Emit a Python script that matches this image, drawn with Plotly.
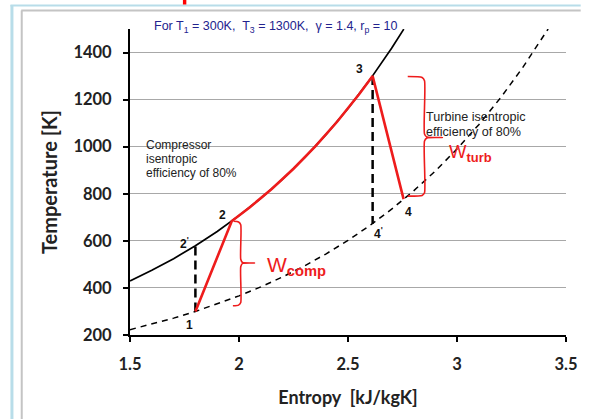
import plotly.graph_objects as go

# Low-pressure isobar (dashed)
s_low = [1.5, 1.6, 1.7, 1.8, 1.9, 2.0, 2.1, 2.2, 2.3, 2.4, 2.5, 2.6, 2.7, 2.8, 2.9, 3.0, 3.1, 3.2, 3.3, 3.4, 3.418]
T_low = [222.6, 245.9, 271.6, 300, 331.4, 366.1, 404.3, 446.7, 493.4, 545.0, 602.0, 665.0, 734.6, 811.4, 896.3, 990.1, 1093.7, 1208, 1334.4, 1474, 1500]

# High-pressure isobar (solid)
s_high = [1.5, 1.6, 1.7, 1.8, 1.9, 2.0, 2.1, 2.2, 2.3, 2.4, 2.5, 2.6, 2.7, 2.756]
T_high = [430, 474.7, 524.4, 579.2, 639.8, 707, 780.7, 862.4, 952.6, 1052.2, 1162.2, 1283.9, 1418.2, 1499.5]

# Actual cycle 1-2-3-4 (red)
s_cycle = [1.8, 1.967, 2.05, 2.15, 2.25, 2.35, 2.45, 2.55, 2.613, 2.755]
T_cycle = [300, 684, 742.7, 820.5, 906.2, 1001.2, 1105.9, 1221.6, 1300, 777]

# Isentropic verticals 1-2' and 3-4'
s_comp_s = [1.8, 1.8]
T_comp_s = [300, 579]
s_turb_s = [2.613, 2.613]
T_turb_s = [1300, 673]

# Point labels
pt_labels = ["1", "2", "2<sup>'</sup>", "3", "4", "4<sup>'</sup>"]
pt_s = [1.773, 1.922, 1.752, 2.552, 2.776, 2.642]
pt_T = [242, 709, 592, 1328, 722, 634]

# Braces
brace_c_s = [1.975, 1.998, 2.008, 2.008, 2.016, 2.071, 2.016, 2.008, 2.008, 1.998, 1.972]
brace_c_T = [683, 680, 668, 522, 508, 506, 504, 490, 338, 327, 324]
brace_t_s = [2.774, 2.84, 2.851, 2.851, 2.862, 2.933, 2.862, 2.851, 2.851, 2.84, 2.774]
brace_t_T = [1298, 1294, 1280, 1054, 1041, 1039, 1037, 1024, 804, 793, 790]

# Note texts (one entry per line)
comp_lines = ["Compressor", "isentropic", "efficiency of 80%"]
comp_T = [1006, 948, 890]
turb_lines = ["Turbine isentropic", "efficiency of 80%"]
turb_T = [1126, 1062]

x_ticks = [1.5, 2, 2.5, 3, 3.5]
y_ticks = [200, 400, 600, 800, 1000, 1200, 1400]

fig = go.Figure()
fig.add_trace(go.Scatter(x=s_low, y=T_low, mode="lines",
                         line=dict(color="black", width=1.5, dash="6px,5px")))
fig.add_trace(go.Scatter(x=s_high, y=T_high, mode="lines",
                         line=dict(color="black", width=1.7)))
fig.add_trace(go.Scatter(x=s_comp_s, y=T_comp_s, mode="lines",
                         line=dict(color="black", width=2.5, dash="9px,5px")))
fig.add_trace(go.Scatter(x=s_turb_s, y=T_turb_s, mode="lines",
                         line=dict(color="black", width=2.5, dash="9px,5px")))
fig.add_trace(go.Scatter(x=s_cycle, y=T_cycle, mode="lines",
                         line=dict(color="#ee1c1c", width=2.6)))
fig.add_trace(go.Scatter(x=brace_c_s, y=brace_c_T, mode="lines",
                         line=dict(color="#ee1c1c", width=1.6, shape="spline", smoothing=0.6)))
fig.add_trace(go.Scatter(x=brace_t_s, y=brace_t_T, mode="lines",
                         line=dict(color="#ee1c1c", width=1.6, shape="spline", smoothing=0.6)))

annotations = []
for lab, sx, ty in zip(pt_labels, pt_s, pt_T):
    annotations.append(dict(x=sx, y=ty, text="<b>" + lab + "</b>", showarrow=False,
                            font=dict(family="Liberation Sans", size=12, color="#111111")))

for line, ty in zip(comp_lines, comp_T):
    annotations.append(dict(x=1.566, y=ty, xanchor="left", yanchor="middle", showarrow=False,
                            text=line, font=dict(family="Liberation Sans", size=12, color="#222222")))
for line, ty in zip(turb_lines, turb_T):
    annotations.append(dict(x=2.848, y=ty, xanchor="left", yanchor="middle", showarrow=False,
                            text=line, font=dict(family="Liberation Sans", size=12.6, color="#222222")))

annotations += [
    dict(x=2.12, y=495, xanchor="left", yanchor="middle", showarrow=False,
         text="W<sub><b>comp</b></sub>",
         font=dict(family="Liberation Sans", size=21, color="#ee1c1c")),
    dict(x=2.955, y=975, xanchor="left", yanchor="middle", showarrow=False,
         text="W<sub><b>turb</b></sub>",
         font=dict(family="Liberation Sans", size=18.5, color="#ee1c1c")),
]

annotations.append(dict(xref="paper", yref="paper", x=(152 - 130) / 445, y=(335 - 27) / 306,
                        xanchor="left", yanchor="middle", showarrow=False,
                        text="For T<sub>1</sub> = 300K,  T<sub>3</sub> = 1300K,  \u03b3 = 1.4, r<sub>p</sub> = 10",
                        font=dict(family="Liberation Sans", size=12.5, color="#23238e")))


def px_x(p):
    return (p - 130) / 445


def px_y(p):
    return (335 - p) / 306


shapes = [
    dict(type="line", xref="paper", yref="paper", x0=px_x(9.5), x1=px_x(9.5), y0=px_y(5), y1=px_y(419),
         line=dict(color="#b8dde9", width=3)),
    dict(type="line", xref="paper", yref="paper", x0=px_x(8), x1=px_x(590), y0=px_y(5.5), y1=px_y(5.5),
         line=dict(color="#b8dde9", width=2)),
    dict(type="line", xref="paper", yref="paper", x0=px_x(19.5), x1=px_x(19.5), y0=px_y(10.5), y1=px_y(419),
         line=dict(color="#c4c4c4", width=2)),
    dict(type="line", xref="paper", yref="paper", x0=px_x(19), x1=px_x(590), y0=px_y(10.5), y1=px_y(10.5),
         line=dict(color="#c4c4c4", width=2)),
    dict(type="rect", xref="paper", yref="paper", x0=px_x(184), x1=px_x(187.5), y0=px_y(4.5), y1=px_y(0),
         line=dict(width=0), fillcolor="#ff0000"),
]

fig.update_layout(
    width=590, height=419,
    margin=dict(l=130, r=15, t=29, b=84),
    paper_bgcolor="white", plot_bgcolor="white",
    showlegend=False,
    annotations=annotations,
    shapes=shapes,
    hovermode=False,
)
fig.update_xaxes(range=[1.5, 3.5], tickvals=x_ticks, ticktext=[str(v) for v in x_ticks],
                 showgrid=False, zeroline=False, showline=True, linecolor="black", linewidth=2,
                 ticks="outside", ticklen=5, tickcolor="black", tickwidth=1.5,
                 ticklabelstandoff=8,
                 tickfont=dict(family="Lato", size=16.5, color="#222222", weight="bold"),
                 title=dict(text="Entropy  [kJ/kgK]", standoff=19,
                            font=dict(family="Lato", size=18, color="#222222", weight="bold")))
fig.update_yaxes(range=[200, 1500], tickvals=y_ticks,
                 showgrid=True, gridcolor="#a8a8a8", gridwidth=1.2, zeroline=False,
                 showline=True, linecolor="black", linewidth=2,
                 ticks="outside", ticklen=5, tickcolor="black", tickwidth=1.5,
                 ticklabelstandoff=8,
                 tickfont=dict(family="Lato", size=16.5, color="#222222", weight="bold"),
                 title=dict(text="Temperature [K]", standoff=10,
                            font=dict(family="Lato", size=20, color="#222222", weight="bold")))

fig.write_html("out.html", config={"displayModeBar": False},
               post_script="document.body.style.margin='0px';document.body.style.overflow='hidden';")
